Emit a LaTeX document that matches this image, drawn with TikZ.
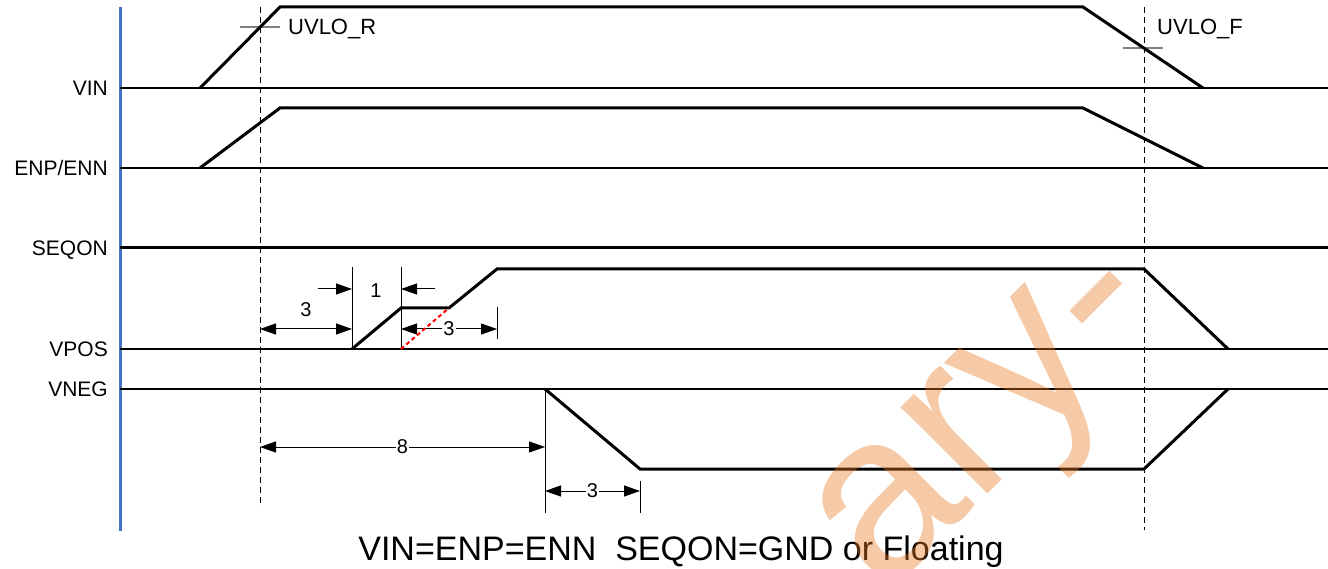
\documentclass[tikz,border=0pt]{standalone}
\usepackage{fontspec}
\setmainfont{Liberation Sans}
\usetikzlibrary{arrows.meta}
\definecolor{axisblue}{HTML}{4472C4}
\definecolor{tickgray}{HTML}{7F7F7F}
\definecolor{markorange}{HTML}{E87722}
\tikzset{
  wave/.style={line width=3pt, line join=miter},
  baseline/.style={line width=1.3pt},
  guide/.style={line width=1pt, dash pattern=on 6pt off 4pt},
  extline/.style={line width=1pt},
  tick/.style={line width=1.5pt, tickgray},
  dim/.style={line width=1pt, {Triangle[length=16pt,width=11pt]}-{Triangle[length=16pt,width=11pt]}},
  dimto/.style={line width=1pt, -{Triangle[length=16pt,width=11pt]}},
  dimlabel/.style={fill=white, inner sep=1pt, font=\fontsize{20}{20}\selectfont},
  siglabel/.style={anchor=base east, inner sep=0pt, font=\fontsize{21}{21}\selectfont},
  uvlolabel/.style={anchor=base west, inner sep=0pt, font=\fontsize{22}{22}\selectfont}
}

\begin{document}
\begin{tikzpicture}[x=1pt, y=-1pt]
\useasboundingbox (0,0) rectangle (1328,569);
% axis and signal names
\draw[line width=3pt, axisblue] (120,7) -- (120,531);
\node[siglabel] (vin) at (108,95.5) {VIN};
\node[siglabel] (enp) at (108,175.5) {ENP/ENN};
\node[siglabel] (seqon) at (108,255.5) {SEQON};
\node[siglabel] (vpos) at (108,356.5) {VPOS};
\node[siglabel] (vneg) at (108,396.5) {VNEG};
% base lines
\draw[baseline] (120,88) -- (1328,88);
\draw[baseline] (120,168) -- (1328,168);
\draw[baseline] (120,349) -- (1328,349);
\draw[baseline] (120,389) -- (1328,389);
% UVLO marks
\draw[guide] (260,7) -- (260,507);
\draw[guide] (1144,7) -- (1144,530);
\draw[tick] (240,27) -- (280,27);
\draw[tick] (1123,48) -- (1163,48);
\node[uvlolabel] (uvlor) at (288,35) {UVLO\_R};
\node[uvlolabel] (uvlof) at (1157,35) {UVLO\_F};
% waveforms
\draw[wave] (200,88) -- (280,7) -- (1083,7) -- (1203,88);
\draw[wave] (200,168) -- (280,108) -- (1083,108) -- (1203,168);
\draw[wave] (120,248) -- (1328,248);
\draw[wave] (352,349) -- (401,308) -- (449,308) -- (497,269) -- (1144,269) -- (1228,349);
\draw[wave] (545,389) -- (640,469) -- (1144,469) -- (1228,389);
% extension lines
\draw[extline] (352,267) -- (352,349);
\draw[extline] (401,267) -- (401,349);
\draw[extline] (497,307) -- (497,339);
\draw[extline] (545,389) -- (545,513);
\draw[extline] (640,481) -- (640,513);
% dimensions
\coordinate (d3a) at (260,329);
\coordinate (d3b) at (352,329);
\coordinate (d1a) at (318,289);
\coordinate (d1b) at (352,289);
\coordinate (d1c) at (435,289);
\coordinate (d1d) at (401,289);
\coordinate (d3c) at (401,329);
\coordinate (d3d) at (497,329);
\coordinate (d8a) at (260,447);
\coordinate (d8b) at (545,447);
\coordinate (d3e) at (545,491);
\coordinate (d3f) at (640,491);
\draw[dim] (d3a) -- (d3b);
\node[dimlabel, fill=none] (lab3a) at (306,310) {3};
\draw[dimto] (d1a) -- (d1b);
\draw[dimto] (d1c) -- (d1d);
\node[dimlabel, fill=none] (lab1) at (376,291) {1};
\draw[dim] (d3c) -- node[dimlabel] (lab3b) {3} (d3d);
\draw[dim] (d8a) -- node[dimlabel] (lab8) {8} (d8b);
\draw[dim] (d3e) -- node[dimlabel] (lab3c) {3} (d3f);
\draw[red, line width=2pt, dash pattern=on 4pt off 3pt] (401,349) -- (449,308);
% note
\node[anchor=base, font=\fontsize{34}{34}\selectfont] (note) at (681,560) {VIN=ENP=ENN\ \ SEQON=GND or Floating};
% watermark
\node[rotate=45, text=markorange, opacity=0.4, inner sep=0pt, font=\fontsize{232}{232}\selectfont] (mark) at (999,428) {ary-};
\end{tikzpicture}
\end{document}
